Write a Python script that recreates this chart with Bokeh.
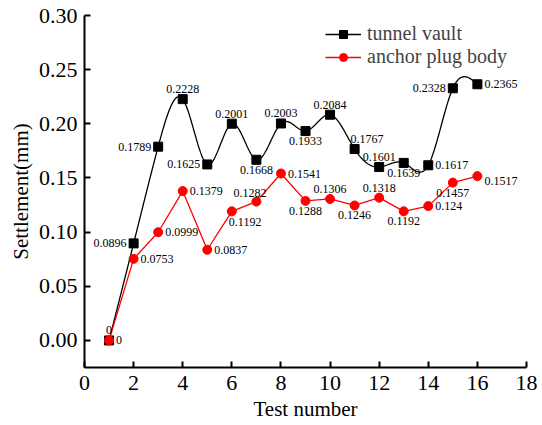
import numpy as np
from bokeh.plotting import figure
from bokeh.models import ColumnDataSource, Range1d, FixedTicker, PrintfTickFormatter, Legend, LegendItem
from bokeh.core.properties import value
from bokeh.embed import file_html
from bokeh.resources import INLINE

test_no = list(range(1, 17))
tunnel_vault = [0, 0.0896, 0.1789, 0.2228, 0.1625, 0.2001, 0.1668, 0.2003,
                0.1933, 0.2084, 0.1767, 0.1601, 0.1639, 0.1617, 0.2328, 0.2365]
anchor_plug = [0, 0.0753, 0.0999, 0.1379, 0.0837, 0.1192, 0.1282, 0.1541,
               0.1288, 0.1306, 0.1246, 0.1318, 0.1192, 0.124, 0.1457, 0.1517]
tunnel_labels = ["0", "0.0896", "0.1789", "0.2228", "0.1625", "0.2001", "0.1668", "0.2003",
                 "0.1933", "0.2084", "0.1767", "0.1601", "0.1639", "0.1617", "0.2328", "0.2365"]
anchor_labels = ["0", "0.0753", "0.0999", "0.1379", "0.0837", "0.1192", "0.1282", "0.1541",
                 "0.1288", "0.1306", "0.1246", "0.1318", "0.1192", "0.124", "0.1457", "0.1517"]
x_ticks = [0, 2, 4, 6, 8, 10, 12, 14, 16, 18]
y_ticks = [0.0, 0.05, 0.10, 0.15, 0.20, 0.25, 0.30]

# label placement codes (style)
tunnel_place = ["A", "L", "L", "A", "L", "A", "B", "A", "B", "A", "AR", "A", "B", "R", "L", "R"]
anchor_place = ["R", "R", "R", "R", "R", "BR", "AL", "R", "B", "A", "B", "A", "B", "R", "B", "RB"]
PLACE = {
    "L": ("right", "middle", -7, 0),
    "R": ("left", "middle", 7, 0),
    "A": ("center", "bottom", 0, -6),
    "B": ("center", "top", 0, 6),
    "AR": ("left", "bottom", -4, -6),
    "AL": ("right", "bottom", 10, -5),
    "BR": ("left", "top", -3, 7),
    "RB": ("left", "middle", 7, 5),
}


def natural_spline(x, y, n=40):
    x = np.asarray(x, float); y = np.asarray(y, float)
    m = len(x); h = np.diff(x)
    A = np.zeros((m, m)); b = np.zeros(m)
    A[0, 0] = A[-1, -1] = 1
    for i in range(1, m - 1):
        A[i, i - 1] = h[i - 1]; A[i, i] = 2 * (h[i - 1] + h[i]); A[i, i + 1] = h[i]
        b[i] = 3 * ((y[i + 1] - y[i]) / h[i] - (y[i] - y[i - 1]) / h[i - 1])
    c = np.linalg.solve(A, b)
    xs, ys = [], []
    for i in range(m - 1):
        bi = (y[i + 1] - y[i]) / h[i] - h[i] * (2 * c[i] + c[i + 1]) / 3
        di = (c[i + 1] - c[i]) / (3 * h[i])
        t = np.linspace(0, h[i], n, endpoint=(i == m - 2))
        xs.extend(x[i] + t)
        ys.extend(y[i] + bi * t + c[i] * t ** 2 + di * t ** 3)
    return xs, ys


p = figure(frame_width=442, frame_height=352, output_backend="svg", toolbar_location=None,
           x_range=Range1d(0, 18), y_range=Range1d(-0.025, 0.30),
           min_border_left=84, min_border_right=12, min_border_top=15, min_border_bottom=50)
p.outline_line_color = None
p.xgrid.visible = False
p.ygrid.visible = False
p.background_fill_color = "white"

serif = "Liberation Serif"
for ax in (p.xaxis[0], p.yaxis[0]):
    ax.axis_line_width = 2
    ax.major_tick_line_width = 2
    ax.major_tick_in = 6
    ax.major_tick_out = 0
    ax.minor_tick_line_color = None
    ax.major_label_text_font = serif
    ax.major_label_text_font_size = "22px"
    ax.major_label_text_color = "black"
    ax.axis_label_text_font = serif
    ax.axis_label_text_font_size = "21px"
    ax.axis_label_text_font_style = "normal"
    ax.axis_label_text_color = "black"
p.xaxis.ticker = FixedTicker(ticks=x_ticks)
p.yaxis.ticker = FixedTicker(ticks=y_ticks)
p.yaxis.formatter = PrintfTickFormatter(format="%.2f")
p.xaxis.axis_label = "Test number"
p.yaxis.axis_label = "Settlement(mm)"
p.xaxis.major_label_standoff = 8
p.yaxis.major_label_standoff = 7
p.xaxis.axis_label_standoff = 4
p.yaxis.axis_label_standoff = 3

sx, sy = natural_spline(test_no, tunnel_vault)
l1 = p.line(sx, sy, line_color="black", line_width=1.3)
s1 = p.scatter(test_no, tunnel_vault, marker="square", size=9, color="black")
l2 = p.line(test_no, anchor_plug, line_color="red", line_width=1.3)
s2 = p.scatter(test_no, anchor_plug, marker="circle", size=9, color="red")


def labels(xv, yv, txt, place):
    src = ColumnDataSource(dict(
        x=xv, y=yv, t=txt,
        align=[PLACE[k][0] for k in place],
        base=[PLACE[k][1] for k in place],
        dx=[PLACE[k][2] for k in place],
        dy=[PLACE[k][3] for k in place]))
    p.text(x="x", y="y", text="t", source=src, text_align="align", text_baseline="base",
           x_offset="dx", y_offset="dy", text_font=value(serif), text_font_size="12px",
           text_color="black")


labels(test_no, tunnel_vault, tunnel_labels, tunnel_place)
labels(test_no, anchor_plug, anchor_labels, anchor_place)

legend = Legend(items=[LegendItem(label="tunnel vault", renderers=[l1, s1]),
                       LegendItem(label="anchor plug body", renderers=[l2, s2])],
                location=(241, 299))
legend.border_line_color = None
legend.background_fill_alpha = 0
legend.label_text_font = serif
legend.label_text_font_size = "20px"
legend.glyph_width = 36
legend.glyph_height = 20
legend.label_height = 20
legend.spacing = 0
legend.padding = 2
legend.margin = 0
legend.label_standoff = 6
p.add_layout(legend)

open("out.html", "w").write(file_html(p, INLINE))
